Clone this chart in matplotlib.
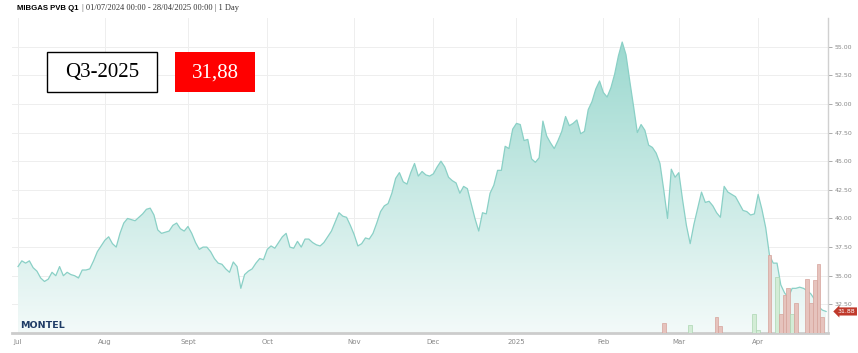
# MIBGAS PVB Q1 daily price chart (Montel style)

import numpy as np
import pandas as pd
import matplotlib
matplotlib.use("Agg")
import matplotlib.pyplot as plt
from matplotlib.colors import LinearSegmentedColormap
from matplotlib.patches import Rectangle
from matplotlib.transforms import blended_transform_factory

# 1. DATA (one value per trading day)

start_date = "2024-07-01"

prices = [
    35.8, 36.3, 36.1, 36.3, 35.7, 35.4, 34.8, 34.5, 34.7, 35.3,
    35.0, 35.8, 35.0, 35.3, 35.1, 35.0, 34.8, 35.5, 35.5, 35.6,
    36.3, 37.1, 37.6, 38.1, 38.4, 37.8, 37.5, 38.7, 39.6, 40.0,
    39.9, 39.8, 40.1, 40.4, 40.8, 40.9, 40.3, 39.0, 38.7, 38.8,
    38.9, 39.4, 39.6, 39.1, 38.9, 39.3, 38.7, 37.9, 37.3, 37.5,
    37.5, 37.1, 36.5, 36.1, 36.0, 35.6, 35.3, 36.2, 35.8, 33.9,
    35.1, 35.4, 35.6, 36.1, 36.5, 36.4, 37.3, 37.6, 37.4, 37.9,
    38.4, 38.7, 37.5, 37.4, 38.0, 37.5, 38.2, 38.2, 37.9, 37.7,
    37.6, 37.9, 38.4, 38.9, 39.7, 40.5, 40.2, 40.1, 39.4, 38.6,
    37.6, 37.8, 38.3, 38.2, 38.7, 39.6, 40.6, 41.1, 41.3, 42.2,
    43.5, 44.0, 43.2, 43.0, 44.0, 44.8, 43.7, 44.1, 43.8, 43.7,
    43.9, 44.5, 45.0, 44.5, 43.6, 43.3, 43.1, 42.2, 42.8, 42.6,
    41.3, 40.0, 38.9, 40.5, 40.4, 42.2, 42.9, 44.2, 44.2, 46.3,
    46.1, 47.8, 48.3, 48.2, 46.8, 46.9, 45.2, 44.9, 45.3, 48.5,
    47.2, 46.6, 46.1, 46.8, 47.6, 48.9, 48.1, 48.3, 48.6, 47.4,
    47.6, 49.5, 50.2, 51.3, 52.0, 51.0, 50.6, 51.4, 52.6, 54.2,
    55.4, 54.3, 52.0, 49.8, 47.5, 48.2, 47.7, 46.4, 46.2, 45.7,
    44.8, 42.5, 40.0, 44.3, 43.6, 44.0, 41.6, 39.4, 37.8, 39.5,
    40.9, 42.3, 41.4, 41.5, 41.1, 40.5, 40.1, 42.8, 42.3, 42.1,
    41.9, 41.3, 40.7, 40.6, 40.3, 40.4, 42.1, 40.8, 39.2, 36.8,
    36.1, 36.1, 34.2, 33.5, 33.1, 33.9, 33.9, 34.0, 33.9, 33.7,
    33.4, 32.9, 32.3, 32.0, 31.88,
]

# volume bars (trading day index, relative volume, up/down)
vol_day = [171, 178, 185, 186, 195, 196, 199, 201, 202, 203, 204, 205, 206,
           209, 210, 211, 212, 213]
vol_size = [10, 8, 16, 7, 19, 3, 78, 56, 19, 38, 45, 19, 30, 54, 30, 53, 69, 16]
vol_dir = ["down", "up", "down", "down", "up", "up", "down", "up", "down",
           "down", "down", "up", "down", "down", "down", "down", "down", "down"]

month_names = {1: "2025", 2: "Feb", 3: "Mar", 4: "Apr", 7: "Jul", 8: "Aug",
               9: "Sept", 10: "Oct", 11: "Nov", 12: "Dec"}

y_ticks = [32.5, 35.0, 37.5, 40.0, 42.5, 45.0, 47.5, 50.0, 52.5, 55.0]

contract = "Q3-2025"
last_price_txt = "31,88"

# 2. FIGURE

W, H = 858, 353
fig = plt.figure(figsize=(W / 100, H / 100), dpi=100)
ax = fig.add_axes([12 / W, 20 / H, 816 / W, 315 / H])

x = np.arange(len(prices))
xmin, xmax, ymin, ymax = -1.6, 214.5, 30, 57.5
ax.set_xlim(xmin, xmax)
ax.set_ylim(ymin, ymax)

# gradient area fill
cmap = LinearSegmentedColormap.from_list("teal", ["#f3faf9", "#95d6cc"])
grad = np.linspace(0, 1, 256).reshape(-1, 1)
im = ax.imshow(grad, extent=[xmin, xmax, ymin, ymax], origin="lower",
               aspect="auto", cmap=cmap, zorder=1)
area = ax.fill_between(x, prices, ymin, color="none", lw=0)
im.set_clip_path(area.get_paths()[0], transform=ax.transData)
ax.plot(x, prices, color="#8ad0c6", lw=0.9, zorder=3)

# volume bars on a hidden twin axis
ax2 = ax.twinx()
ax2.set_ylim(0, 315)
fills = {"up": "#d3ecd6", "down": "#e6c3bd"}
edges = {"up": "#acd6b2", "down": "#d6a39b"}
ax2.bar(vol_day, vol_size, width=1.0,
        color=[fills[d] for d in vol_dir],
        edgecolor=[edges[d] for d in vol_dir], lw=0.5)
ax2.set_axis_off()

# axes styling
ax.yaxis.tick_right()
ax.set_yticks(y_ticks)
ax.set_yticklabels([f"{v:.2f}" for v in y_ticks])
ax.tick_params(axis="y", labelsize=4.5, colors="#888888", length=3,
               width=0.5, pad=1.5)

dates = pd.bdate_range(start_date, periods=len(prices))
first = np.flatnonzero(dates.month != np.roll(dates.month, 1))
ax.set_xticks(first)
ax.set_xticklabels([month_names[dates[i].month] for i in first])
ax.tick_params(axis="x", labelsize=5, colors="#888888", length=0, pad=4)

ax.grid(color="#eeeeee", lw=0.7)
ax.set_axisbelow(True)
for s in ["left", "top"]:
    ax.spines[s].set_visible(False)
ax.spines["right"].set_color("#d0d0d0")
ax.spines["right"].set_linewidth(1.0)
ax.spines["bottom"].set_color("#cccccc")
ax.spines["bottom"].set_linewidth(2.0)

# last price tag
tr = blended_transform_factory(ax.transAxes, ax.transData)
ax.text(1.012, prices[-1], "31.88", transform=tr, ha="left", va="center",
        fontsize=4.5, color="white", zorder=6, clip_on=False,
        bbox=dict(boxstyle="larrow,pad=0.25", fc="#c0392b", ec="none"))

# 3. TITLE, BOXES, LOGO

t1 = fig.text(17 / W, 1 - 8 / H, "MIBGAS PVB Q1", fontsize=5.6,
              fontweight="bold", family="Liberation Sans", va="center")
fig.canvas.draw()
bb = t1.get_window_extent()
fig.text(bb.x1 / W + 1 / W, 1 - 8 / H,
         " | 01/07/2024 00:00 - 28/04/2025 00:00 | 1 Day",
         fontsize=6, family="Liberation Serif", color="#333333", va="center")

fig.add_artist(Rectangle((47 / W, 1 - 92 / H), 110 / W, 40 / H,
                         transform=fig.transFigure, fc="white", ec="black",
                         lw=1.0))
fig.text(102 / W, 1 - 73 / H, contract, fontsize=15, family="Liberation Serif",
         ha="center", va="center")
fig.add_artist(Rectangle((175 / W, 1 - 92 / H), 80 / W, 40 / H,
                         transform=fig.transFigure, fc="#ff0000", ec="none"))
fig.text(215 / W, 1 - 73 / H, last_price_txt, fontsize=15, color="white",
         family="Liberation Serif", ha="center", va="center")

fig.text(20 / W, 1 - 326 / H, "MONTEL", fontsize=6.8, fontweight="heavy",
         family="DejaVu Sans", color="#1f3c66", va="center")

fig.savefig("out.png", dpi=100)
